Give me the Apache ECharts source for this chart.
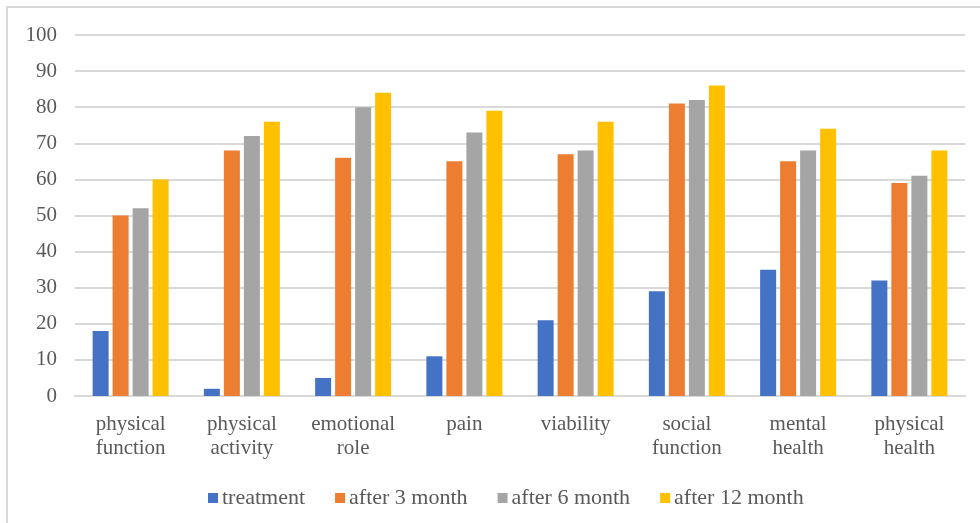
<!DOCTYPE html>
<html>
<head>
<meta charset="utf-8">
<script src="https://cdn.jsdelivr.net/npm/echarts@6/dist/echarts.min.js"></script>
<style>
  html, body { margin: 0; padding: 0; background: #fff; }
  #chart { width: 980px; height: 523px; }
</style>
</head>
<body>
<div id="chart"></div>
<script>
// Quality-of-life scores by domain, measured at treatment and at follow-ups
const categories = [
  'physical\nfunction', 'physical\nactivity', 'emotional\nrole', 'pain',
  'viability', 'social\nfunction', 'mental\nhealth', 'physical\nhealth'
];
const seriesNames = ['treatment', 'after 3 month', 'after 6 month', 'after 12 month'];
const treatment = [18, 2, 5, 11, 21, 29, 35, 32];
const after3 = [50, 68, 66, 65, 67, 81, 65, 59];
const after6 = [52, 72, 80, 73, 68, 82, 68, 61];
const after12 = [60, 76, 84, 79, 76, 86, 74, 68];
const colors = ['#4472C4', '#ED7D31', '#A5A5A5', '#FFC000'];

const font = '"Liberation Serif", "Times New Roman", serif';
const textColor = '#595959';
const values = [treatment, after3, after6, after12];

const chart = echarts.init(document.getElementById('chart'), null, { renderer: 'canvas' });
chart.setOption({
  animation: false,
  backgroundColor: '#fff',
  graphic: [{
    type: 'rect',
    shape: { x: 7, y: 7, width: 1200, height: 1200 },
    style: { fill: 'none', stroke: '#d9d9d9', lineWidth: 2 },
    silent: true
  }],
  grid: { left: 75, right: 15, top: 35, bottom: 127 },
  legend: {
    left: 203,
    top: 482,
    itemWidth: 10,
    itemHeight: 10,
    itemGap: 30,
    icon: 'rect',
    textStyle: { fontFamily: font, fontSize: 22, color: textColor, padding: [0, 0, 0, -1] },
    data: seriesNames
  },
  xAxis: {
    type: 'category',
    data: categories,
    axisLine: { lineStyle: { color: '#d9d9d9', width: 2 } },
    axisTick: { show: false },
    axisLabel: {
      fontFamily: font, fontSize: 21, color: textColor,
      lineHeight: 24, margin: 16, interval: 0
    }
  },
  yAxis: {
    type: 'value',
    min: 0, max: 100, interval: 10,
    axisLine: { show: false },
    axisTick: { show: false },
    splitLine: { lineStyle: { color: '#d9d9d9', width: 2 } },
    axisLabel: { fontFamily: font, fontSize: 21, color: textColor, margin: 18 }
  },
  series: seriesNames.map((name, i) => ({
    name: name,
    type: 'bar',
    data: values[i],
    barWidth: 16,
    barGap: '25%',
    itemStyle: { color: colors[i] }
  }))
});
</script>
</body>
</html>
